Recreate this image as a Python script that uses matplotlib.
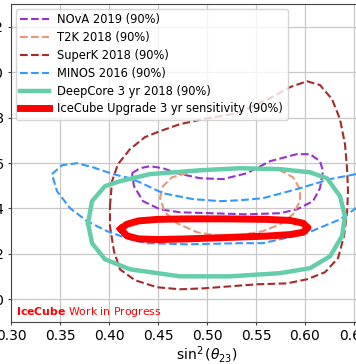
import matplotlib
matplotlib.use('Agg')
import matplotlib.pyplot as plt

# contours: sin^2(theta23) and dm^2_32 (1e-3 eV^2)
nova_x = [0.4235, 0.4316, 0.4418, 0.4551, 0.4694, 0.4929, 0.5163, 0.5408, 0.5643, 0.5918,
          0.6051, 0.6153, 0.6184, 0.6153, 0.6082, 0.5918, 0.5745, 0.5408, 0.5031, 0.4724,
          0.4520, 0.4347, 0.4255, 0.4235]
nova_y = [2.555, 2.577, 2.586, 2.577, 2.555, 2.533, 2.529, 2.555, 2.608, 2.639,
          2.639, 2.608, 2.564, 2.489, 2.432, 2.396, 2.379, 2.374, 2.379, 2.383,
          2.396, 2.432, 2.498, 2.555]

t2k_x = [0.4520, 0.4551, 0.4643, 0.4827, 0.5133, 0.5439, 0.5745, 0.5878, 0.5949, 0.5949,
         0.5878, 0.5745, 0.5571, 0.5337, 0.5133, 0.4898, 0.4694, 0.4571, 0.4520]
t2k_y = [2.445, 2.498, 2.537, 2.559, 2.573, 2.577, 2.568, 2.537, 2.485, 2.432,
         2.374, 2.330, 2.300, 2.282, 2.278, 2.295, 2.335, 2.383, 2.445]

superk_x = [0.4010, 0.4031, 0.4092, 0.4214, 0.4367, 0.4520, 0.4724, 0.4959, 0.5306, 0.5643,
            0.5847, 0.6020, 0.6153, 0.6276, 0.6357, 0.6408, 0.6429, 0.6439, 0.6429, 0.6398,
            0.6337, 0.6204, 0.6020, 0.5816, 0.5510, 0.5235, 0.4959, 0.4724, 0.4490, 0.4265,
            0.4112, 0.4051, 0.4010, 0.4010]
superk_y = [2.410, 2.520, 2.595, 2.661, 2.714, 2.740, 2.771, 2.793, 2.819, 2.885,
            2.934, 2.960, 2.943, 2.881, 2.793, 2.683, 2.577, 2.476, 2.379, 2.278,
            2.181, 2.119, 2.088, 2.070, 2.066, 2.057, 2.048, 2.044, 2.053, 2.084,
            2.132, 2.211, 2.322, 2.410]

minos_x = [0.3418, 0.3520, 0.3673, 0.3837, 0.4041, 0.4214, 0.4316, 0.4551, 0.4857, 0.5133,
           0.5337, 0.5571, 0.5918, 0.6255, 0.6520, 0.6765, 0.6918, 0.6888, 0.6714, 0.6520,
           0.6357, 0.6020, 0.5571, 0.5337, 0.4796, 0.4388, 0.4214, 0.3980, 0.3776, 0.3602,
           0.3469, 0.3418]
minos_y = [2.551, 2.590, 2.599, 2.581, 2.551, 2.533, 2.515, 2.467, 2.441, 2.432,
           2.436, 2.445, 2.485, 2.529, 2.551, 2.573, 2.542, 2.476, 2.432, 2.401,
           2.352, 2.291, 2.247, 2.247, 2.242, 2.247, 2.264, 2.300, 2.344, 2.401,
           2.476, 2.551]

deepcore_x = [0.3786, 0.3827, 0.3959, 0.4112, 0.4418, 0.4929, 0.5337, 0.5745, 0.6051, 0.6224,
              0.6357, 0.6408, 0.6378, 0.6255, 0.6051, 0.5745, 0.5235, 0.4724, 0.4214, 0.3959,
              0.3827, 0.3786]
deepcore_y = [2.335, 2.432, 2.498, 2.520, 2.551, 2.568, 2.577, 2.573, 2.559, 2.533,
              2.454, 2.366, 2.278, 2.189, 2.137, 2.115, 2.101, 2.101, 2.132, 2.176,
              2.247, 2.335]

upgrade_x = [0.412, 0.418, 0.430, 0.450, 0.480, 0.520, 0.560, 0.585, 0.598, 0.603,
             0.598, 0.585, 0.560, 0.520, 0.480, 0.450, 0.430, 0.418, 0.412]
upgrade_y = [2.310, 2.330, 2.345, 2.352, 2.354, 2.354, 2.352, 2.347, 2.335, 2.315,
             2.295, 2.285, 2.278, 2.272, 2.266, 2.263, 2.266, 2.280, 2.310]

x_ticks = [0.30, 0.35, 0.40, 0.45, 0.50, 0.55, 0.60, 0.65, 0.70]
y_ticks = [2.0, 2.2, 2.4, 2.6, 2.8, 3.0, 3.2]

fig = plt.figure(figsize=(3.56, 3.64), dpi=100)
ax = fig.add_axes([11/356, 42/364, 392/356, 318/364])

ax.plot(nova_x, nova_y, '--', color='#9932cc', lw=1.5, label='NOvA 2019 (90%)')
ax.plot(t2k_x, t2k_y, '--', color='#e9967a', lw=1.5, label='T2K 2018 (90%)')
ax.plot(superk_x, superk_y, '--', color='#a52a2a', lw=1.5, label='SuperK 2018 (90%)')
ax.plot(minos_x, minos_y, '--', color='#3399ff', lw=1.5, label='MINOS 2016 (90%)')
ax.plot(deepcore_x, deepcore_y, '-', color='#66cdaa', lw=3.2, label='DeepCore 3 yr 2018 (90%)')
ax.plot(upgrade_x, upgrade_y, '-', color='red', lw=5.0,
        label='IceCube Upgrade 3 yr sensitivity (90%)')

ax.set_xlim(0.30, 0.70)
ax.set_ylim(1.9, 3.3)
ax.set_xticks(x_ticks)
ax.set_yticks(y_ticks)
ax.set_xticklabels(['%.2f' % t for t in x_ticks])
ax.set_yticklabels(['%.1f' % t for t in y_ticks])
ax.tick_params(labelsize=10, length=2.5, pad=2.5, color='#444444')
ax.grid(True, color='#c8c8c8', lw=0.9)
for s in ax.spines.values():
    s.set_color('#444444')
ax.set_xlabel(r'$\sin^2(\theta_{23})$', fontsize=10, labelpad=1)

ax.text(0.0128, 0.022, r'$\mathbf{IceCube}$ Work in Progress', color='red',
        fontsize=7.8, transform=ax.transAxes, va='baseline')

ax.legend(loc='upper left', fontsize=8.3, handlelength=2.5, handletextpad=0.7,
          labelspacing=0.42, borderaxespad=0.4, framealpha=0.8)

fig.savefig('out.png', dpi=100)
